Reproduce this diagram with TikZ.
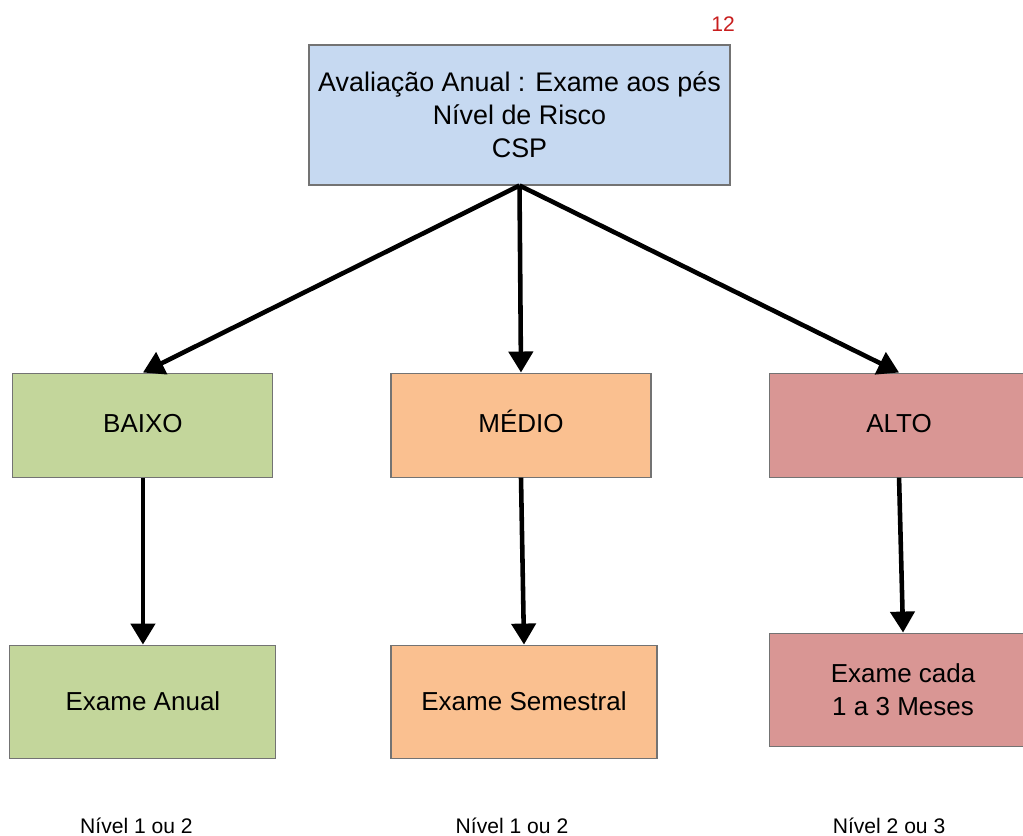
\documentclass[tikz,border=0pt]{standalone}
\usepackage{fontspec}
\setmainfont{Liberation Sans}
\usepackage{xcolor}
\usetikzlibrary{positioning, arrows.meta}
\definecolor{topblue}{RGB}{198,217,241}
\definecolor{lowgreen}{RGB}{195,214,155}
\definecolor{midorange}{RGB}{250,192,144}
\definecolor{highred}{RGB}{217,150,148}
\definecolor{pagered}{RGB}{200,30,30}
\tikzset{
    riskbox/.style={rectangle, draw=black!55, line width=0.6pt, align=center, minimum width=5.2cm, minimum height=2.08cm, inner sep=2pt, font=\fontsize{14.8}{18.7}\selectfont},
    levelbox/.style={riskbox, text height=1.05em, text depth=0.25em},
    exambox/.style={riskbox, minimum width=5.32cm, minimum height=2.26cm},
    levelnote/.style={font=\fontsize{12}{14}\selectfont, inner sep=0pt},
    arrow/.style={-{Triangle[length=0.42cm, width=0.48cm]}, line width=2.6pt}
}
\begin{document}
\begin{tikzpicture}
    \useasboundingbox (0,0) rectangle (20.46,-16.72);

    % Nodes
    \node[riskbox, fill=topblue, minimum width=8.42cm, minimum height=2.8cm, font=\fontsize{15.3}{18.7}\selectfont] (Top) at (10.39,-2.30)
        {Avaliação Anual : Exame aos pés\\Nível de Risco\\CSP};
    \node[font=\fontsize{12}{14}\selectfont, text=pagered, inner sep=0pt] (Page) at (14.46,-0.49) {12};

    % Risk levels
    \node[levelbox, fill=midorange, below=3.74cm of Top.south, anchor=north, xshift=0.03cm] (Medio) {MÉDIO};
    \node[levelbox, fill=lowgreen, left=2.34cm of Medio] (Baixo) {BAIXO};
    \node[levelbox, fill=highred, right=2.34cm of Medio] (Alto) {ALTO};

    % Exams
    \node[exambox, fill=lowgreen, below=3.34cm of Baixo] (Anual) {Exame Anual};
    \node[exambox, fill=midorange, below=3.34cm of Medio, xshift=0.06cm] (Semestral) {Exame Semestral};
    \node[exambox, fill=highred, below=3.1cm of Alto, xshift=0.08cm, minimum width=5.36cm] (Cada) {Exame cada\\ 1 a 3 Meses};

    % Notes
    \node[levelnote, below=1.18cm of Anual, xshift=-0.13cm] (NoteA) {Nível 1 ou 2};
    \node[levelnote, below=1.18cm of Semestral, xshift=-0.24cm] (NoteB) {Nível 1 ou 2};
    \node[levelnote, below=1.42cm of Cada, xshift=-0.28cm] (NoteC) {Nível 2 ou 3};

    % Edges
    \draw[arrow] (Top.south) -- (Baixo.north);
    \draw[arrow] (Top.south) -- (Medio.north);
    \draw[arrow] (Top.south) -- (Alto.north);
    \draw[arrow] (Baixo.south) -- (Anual.north);
    \draw[arrow] (Medio.south) -- (Semestral.north);
    \draw[arrow] (Alto.south) -- (Cada.north);
\end{tikzpicture}
\end{document}
